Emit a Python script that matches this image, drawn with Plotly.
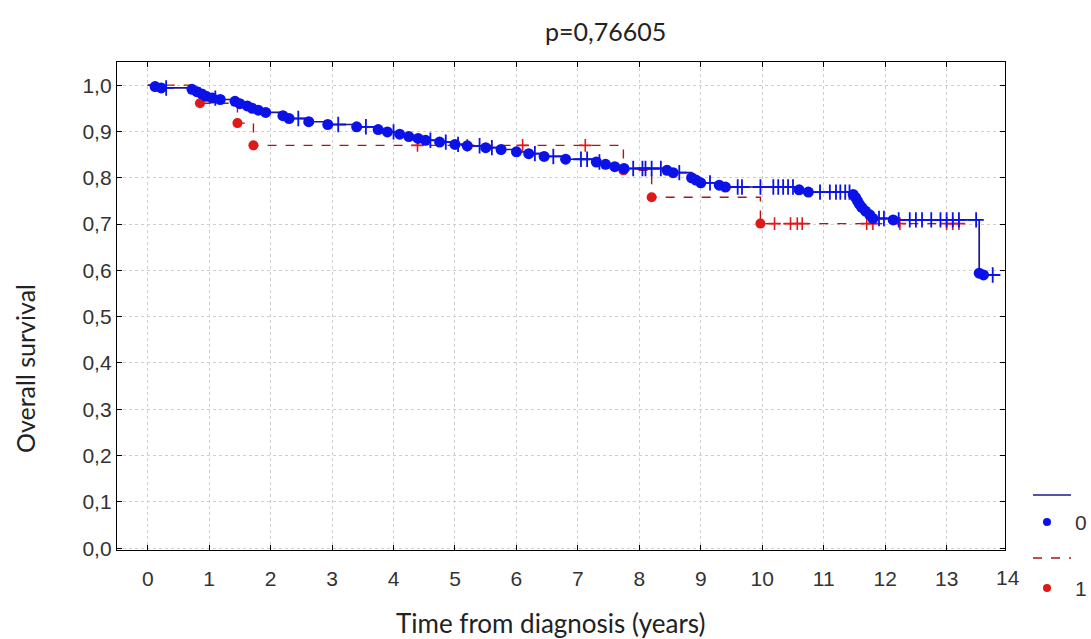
import plotly.graph_objects as go
import numpy as np

# ---- data ----
# group 0 : event times and survival after each event
time0 = [0.0, 0.12, 0.22, 0.72, 0.80, 0.88, 0.95, 1.05, 1.18, 1.42, 1.50, 1.62, 1.70, 1.80, 1.92,
         2.20, 2.30, 2.62, 2.93, 3.40, 3.75, 3.90, 4.10, 4.25, 4.40, 4.52, 4.75, 5.00, 5.20,
         5.50, 5.75, 6.00, 6.20, 6.45, 6.80, 7.30, 7.45, 7.60, 7.75, 8.45, 8.55, 8.85, 8.92,
         9.00, 9.30, 9.40, 10.60, 10.75, 11.48, 11.52, 11.55, 11.58, 11.62, 11.68, 11.75,
         11.80, 12.13, 13.53, 13.60]
surv0 = [1.000, 0.997, 0.994, 0.991, 0.986, 0.981, 0.976, 0.972, 0.969, 0.965, 0.960, 0.955,
         0.950, 0.946, 0.941, 0.934, 0.928, 0.921, 0.915, 0.910, 0.904, 0.899, 0.894, 0.889,
         0.885, 0.881, 0.877, 0.872, 0.869, 0.865, 0.861, 0.856, 0.852, 0.846, 0.840, 0.834,
         0.829, 0.824, 0.820, 0.816, 0.811, 0.800, 0.795, 0.789, 0.784, 0.780, 0.774, 0.769,
         0.764, 0.757, 0.750, 0.743, 0.736, 0.728, 0.720, 0.712, 0.709, 0.594, 0.590]
end0 = 13.82
cens0 = [0.30, 1.10, 2.45, 3.10, 3.55, 4.00, 4.60, 4.85, 5.05, 5.40, 5.60, 6.30, 6.60, 7.05,
         7.15, 7.35, 7.90, 8.05, 8.10, 8.20, 8.35, 8.65, 9.15, 9.60, 9.67, 9.97, 10.18, 10.26,
         10.34, 10.42, 10.50, 10.94, 11.10, 11.20, 11.27, 11.35, 11.42, 11.90, 11.98, 12.22,
         12.40, 12.50, 12.60, 12.75, 12.90, 13.00, 13.10, 13.20, 13.48, 13.75]

# group 1
time1 = [0.0, 0.85, 1.46, 1.72, 7.74, 8.20, 9.97]
surv1 = [1.000, 0.961, 0.918, 0.870, 0.816, 0.758, 0.701]
end1 = 13.20
cens1 = [4.39, 5.20, 6.10, 7.12, 10.20, 10.46, 10.57, 10.65, 11.70, 11.80, 12.24, 13.00, 13.10, 13.20]

x_ticks = list(range(0, 15))
y_ticks = [0.0, 0.1, 0.2, 0.3, 0.4, 0.5, 0.6, 0.7, 0.8, 0.9, 1.0]
p_text = "p=0,76605"
x_title = "Time from diagnosis (years)"
y_title = "Overall survival"

BLUE_LINE = "#1a1a8c"
BLUE_DOT = "#0b12e8"
RED_LINE = "#b01515"
RED_DOT = "#e01818"


def surv_at(times, survs, t):
    idx = np.searchsorted(times, t, side="right") - 1
    return survs[max(idx, 0)]


fig = go.Figure()

# step lines
fig.add_trace(go.Scatter(x=time0 + [end0], y=surv0 + [surv0[-1]], mode="lines",
                         line=dict(color=BLUE_LINE, width=1.7, shape="hv"), showlegend=False))
fig.add_trace(go.Scatter(x=time1 + [end1], y=surv1 + [surv1[-1]], mode="lines",
                         line=dict(color=RED_LINE, width=1.4, shape="hv", dash="dash"),
                         showlegend=False))

# censor marks
fig.add_trace(go.Scatter(x=cens1, y=[surv_at(time1, surv1, t) for t in cens1], mode="markers",
                         marker=dict(symbol="cross-thin", size=9,
                                     line=dict(color=RED_DOT, width=1.6)), showlegend=False))
fig.add_trace(go.Scatter(x=cens0, y=[surv_at(time0, surv0, t) for t in cens0], mode="markers",
                         marker=dict(symbol="cross-thin", size=11,
                                     line=dict(color=BLUE_DOT, width=1.8)), showlegend=False))

# event dots
fig.add_trace(go.Scatter(x=time1[1:], y=surv1[1:], mode="markers",
                         marker=dict(symbol="circle", size=10, color=RED_DOT), showlegend=False))
fig.add_trace(go.Scatter(x=time0[1:], y=surv0[1:], mode="markers",
                         marker=dict(symbol="circle", size=11, color=BLUE_DOT), showlegend=False))

W, H = 1091, 639
L, T = 117, 62
R = W - 1005
B = H - 550
pw = W - L - R
ph = H - T - B


def px2paper_x(px):
    return (px - L) / pw


def px2paper_y(py):
    return (H - B - py) / ph


tick_font = dict(family="Liberation Sans, Arial, sans-serif", size=21, color="#333333")
axis_common = dict(showline=True, linecolor="black", linewidth=1.3, mirror="ticks",
                   ticks="inside", ticklen=5, tickcolor="black",
                   showgrid=True, gridcolor="#cfcfcf", griddash="dot", gridwidth=1,
                   zeroline=False, tickfont=tick_font)

fig.update_layout(
    width=W, height=H,
    margin=dict(l=L, r=R, t=T, b=B),
    paper_bgcolor="white", plot_bgcolor="white",
    separators=",.",
    showlegend=False,
    xaxis=dict(range=[-0.5, 13.95], tickvals=x_ticks, ticklabelstandoff=10, **axis_common),
    yaxis=dict(range=[-0.004, 1.05], tickvals=y_ticks, tickformat=".1f", **axis_common),
)

title_font = dict(family="Lato, Open Sans, sans-serif", size=25, color="#222222")
xt_font = dict(family="Lato, Open Sans, sans-serif", size=26, color="#222222")


def note(text, px, py, font, **kw):
    return dict(text=text, x=px2paper_x(px), y=px2paper_y(py), xref="paper", yref="paper",
                xanchor="center", yanchor="middle", showarrow=False, font=font, **kw)


ann = [
    note(p_text, 605, 31, title_font),
    note(y_title, 25, 369, title_font, textangle=-90),
    note(x_title, 550, 623, xt_font),
    note("14", 1008, 577, tick_font),   # x tick "14" just past the frame
    note("0", 1081, 522, tick_font),
    note("1", 1081, 588, tick_font),
]
fig.update_layout(annotations=ann)

shapes = []
shapes.append(dict(type="line", xref="paper", yref="paper", x0=px2paper_x(1033),
                   x1=px2paper_x(1071), y0=px2paper_y(495), y1=px2paper_y(495),
                   line=dict(color=BLUE_LINE, width=1.6)))
shapes.append(dict(type="line", xref="paper", yref="paper", x0=px2paper_x(1033),
                   x1=px2paper_x(1071), y0=px2paper_y(558), y1=px2paper_y(558),
                   line=dict(color=RED_LINE, width=1.4, dash="dash")))
for py, col in [(522, BLUE_DOT), (588, RED_DOT)]:
    shapes.append(dict(type="circle", xref="paper", yref="paper", xsizemode="pixel",
                       ysizemode="pixel", xanchor=px2paper_x(1047), yanchor=px2paper_y(py),
                       x0=-4, x1=4, y0=-4, y1=4, fillcolor=col, line=dict(width=0)))
fig.update_layout(shapes=shapes)

fig.write_html("out.html", config={"displayModeBar": False},
               post_script="document.body.style.margin='0';"
                           "document.body.style.overflow='hidden';")
